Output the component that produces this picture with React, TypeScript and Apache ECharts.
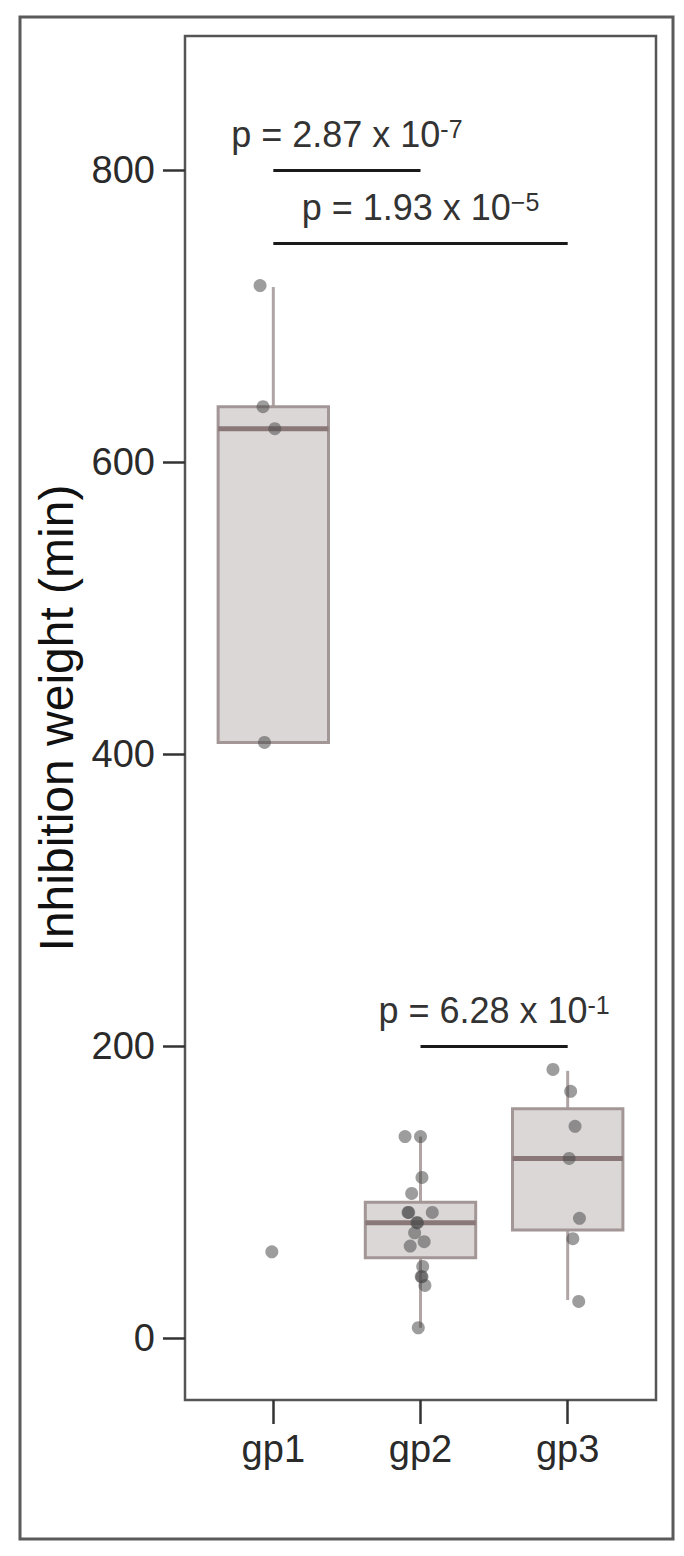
import React, { useEffect, useRef } from "react";
import * as echarts from "echarts";

// ---- data ----
const groups = ["gp1", "gp2", "gp3"];

// box statistics: [lower whisker, Q1, median, Q3, upper whisker]
const whiskerLow = [408, 7, 26];
const q1 = [408, 55, 74];
const median = [623, 79, 123];
const q3 = [638, 93, 157];
const whiskerHigh = [720, 138, 183];

// jittered points (value, horizontal jitter in category units)
const gp1Values = [721, 638, 623, 408, 59];
const gp1Jitter = [-0.09, -0.07, 0.01, -0.06, -0.01];
const gp2Values = [138, 138, 110, 99, 86, 86, 86, 79, 79, 72, 66, 63, 49, 42, 42, 36, 7];
const gp2Jitter = [-0.105, 0.0, 0.01, -0.06, -0.085, -0.08, 0.08, -0.025, -0.02, -0.04, 0.025, -0.07, 0.015, 0.01, 0.005, 0.03, -0.015];
const gp3Values = [184, 169, 145, 123, 82, 68, 25];
const gp3Jitter = [-0.1, 0.02, 0.05, 0.01, 0.08, 0.035, 0.075];

// significance brackets: from group, to group, height, p text, exponent
const bracketFrom = [1, 1, 2];
const bracketTo = [2, 3, 3];
const bracketY = [800, 750, 200];
const bracketText = ["p = 2.87 x 10", "p = 1.93 x 10", "p = 6.28 x 10"];
const bracketExp = ["-7", "\u22125", "-1"];

const yTicks = [0, 200, 400, 600, 800];

const FONT = "'Liberation Sans', Arial, Helvetica, sans-serif";

export default function App() {
  const ref = useRef<HTMLDivElement>(null);

  useEffect(() => {
    if (!ref.current) return;
    const chart = echarts.init(ref.current, null, { renderer: "svg" });

    const boxData = groups.map((_, i) => [i + 1, whiskerLow[i], q1[i], median[i], q3[i], whiskerHigh[i]]);

    const points: number[][] = [];
    gp1Values.forEach((v, i) => points.push([1 + gp1Jitter[i], v]));
    gp2Values.forEach((v, i) => points.push([2 + gp2Jitter[i], v]));
    gp3Values.forEach((v, i) => points.push([3 + gp3Jitter[i], v]));

    const markData = bracketY.map((y, i) => [
      {
        coord: [bracketFrom[i], y],
        label: {
          formatter: `{a|${bracketText[i]}}{s|${bracketExp[i]}}`,
        },
      },
      { coord: [bracketTo[i], y] },
    ]);

    const option: any = {
      animation: false,
      backgroundColor: "#ffffff",
      grid: {
        left: 185,
        top: 36,
        right: 28,
        bottom: 156,
        show: true,
        borderColor: "#555555",
        borderWidth: 2.5,
        backgroundColor: "transparent",
      },
      xAxis: {
        type: "value",
        min: 0.4,
        max: 3.6,
        position: "bottom",
        splitLine: { show: false },
        axisLine: { show: false, onZero: false },
        axisTick: {
          show: true,
          customValues: [1, 2, 3],
          length: 24,
          lineStyle: { color: "#333333", width: 2.5 },
        },
        axisLabel: {
          customValues: [1, 2, 3],
          formatter: (v: number) => groups[Math.round(v) - 1] ?? "",
          fontSize: 38,
          color: "#2a2a2a",
          fontFamily: FONT,
          margin: 30,
        },
      },
      yAxis: {
        type: "value",
        min: -42.5,
        max: 892,
        position: "left",
        splitLine: { show: false },
        axisLine: { show: false, onZero: false },
        axisTick: {
          show: true,
          customValues: yTicks,
          length: 22,
          lineStyle: { color: "#333333", width: 2.5 },
        },
        axisLabel: {
          customValues: yTicks,
          fontSize: 38,
          color: "#2a2a2a",
          fontFamily: FONT,
          margin: 30,
        },
        name: "Inhibition weight (min)",
        nameLocation: "middle",
        nameGap: 100,
        nameTextStyle: { fontSize: 48, color: "#111111", fontFamily: FONT },
      },
      graphic: [
        {
          type: "rect",
          shape: { x: 20, y: 17, width: 653, height: 1522 },
          style: { fill: "none", stroke: "#5a5a5a", lineWidth: 3 },
          silent: true,
          z: -1,
        },
      ],
      series: [
        {
          type: "custom",
          name: "box",
          data: boxData,
          z: 2,
          renderItem: (params: any, api: any) => {
            const x = api.value(0);
            const low = api.coord([x, api.value(1)]);
            const pq1 = api.coord([x, api.value(2)]);
            const pmed = api.coord([x, api.value(3)]);
            const pq3 = api.coord([x, api.value(4)]);
            const high = api.coord([x, api.value(5)]);
            const halfW = api.size([0.375, 0])[0];
            const whiskerStyle = { stroke: "#b0a4a4", lineWidth: 3 };
            return {
              type: "group",
              children: [
                {
                  type: "line",
                  shape: { x1: high[0], y1: high[1], x2: pq3[0], y2: pq3[1] },
                  style: whiskerStyle,
                },
                {
                  type: "line",
                  shape: { x1: pq1[0], y1: pq1[1], x2: low[0], y2: low[1] },
                  style: whiskerStyle,
                },
                {
                  type: "rect",
                  shape: { x: pq3[0] - halfW, y: pq3[1], width: halfW * 2, height: pq1[1] - pq3[1] },
                  style: { fill: "#dcd7d7", stroke: "#a39696", lineWidth: 3 },
                },
                {
                  type: "line",
                  shape: { x1: pmed[0] - halfW, y1: pmed[1], x2: pmed[0] + halfW, y2: pmed[1] },
                  style: { stroke: "#8a7878", lineWidth: 5 },
                },
              ],
            };
          },
        },
        {
          type: "scatter",
          name: "points",
          data: points,
          symbol: "circle",
          symbolSize: 13,
          z: 3,
          itemStyle: { color: "#4d4d4d", opacity: 0.55 },
          silent: true,
          markLine: {
            silent: true,
            symbol: ["none", "none"],
            lineStyle: { color: "#1a1a1a", width: 3, type: "solid" },
            label: {
              show: true,
              position: "insideMiddleTop",
              distance: 18,
              rich: {
                a: { fontSize: 36, color: "#333333", fontFamily: FONT },
                s: { fontSize: 25, color: "#333333", fontFamily: FONT, verticalAlign: "top" },
              },
            },
            data: markData,
          },
        },
      ],
    };

    chart.setOption(option);
    return () => chart.dispose();
  }, []);

  return (
    <div
      ref={ref}
      style={{ position: "absolute", left: 0, top: 0, width: 684, height: 1556 }}
    />
  );
}
